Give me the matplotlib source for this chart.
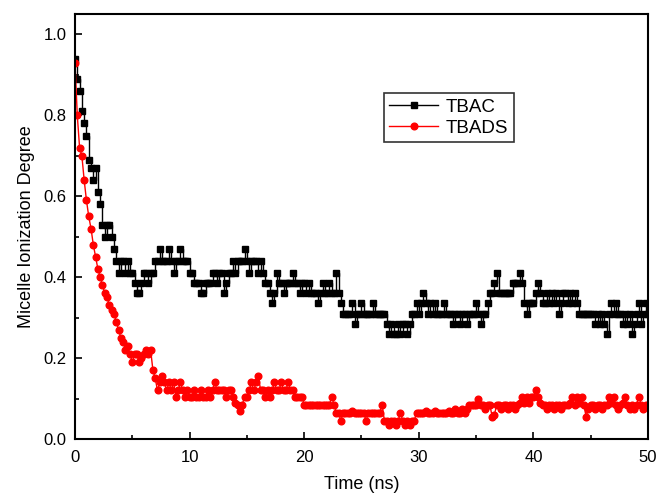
import numpy as np
import matplotlib
matplotlib.use("Agg")
import matplotlib.pyplot as plt

plt.rcParams['font.family'] = ['Liberation Sans', 'DejaVu Sans']

# sampling step of the trajectories (ns)
dt = 0.2

# TBAC, one row per ns (5 samples each)
tbac = [
    0.94, 0.89, 0.86, 0.81, 0.78,
    0.75, 0.69, 0.67, 0.64, 0.67,
    0.61, 0.58, 0.53, 0.50, 0.53,
    0.53, 0.50, 0.47, 0.44, 0.41,
    0.44, 0.44, 0.41, 0.44, 0.41,
    0.41, 0.385, 0.36, 0.36, 0.385,
    0.41, 0.41, 0.385, 0.41, 0.41,
    0.44, 0.44, 0.47, 0.44, 0.44,
    0.44, 0.47, 0.44, 0.41, 0.44,
    0.44, 0.47, 0.44, 0.44, 0.44,
    0.41, 0.41, 0.385, 0.385, 0.385,
    0.36, 0.36, 0.385, 0.385, 0.385,
    0.41, 0.41, 0.385, 0.41, 0.41,
    0.36, 0.385, 0.41, 0.41, 0.44,
    0.41, 0.44, 0.44, 0.44, 0.47,
    0.44, 0.41, 0.44, 0.44, 0.44,
    0.41, 0.44, 0.41, 0.385, 0.385,
    0.36, 0.335, 0.36, 0.41, 0.385,
    0.385, 0.36, 0.385, 0.385, 0.385,
    0.41, 0.385, 0.385, 0.36, 0.385,
    0.385, 0.36, 0.385, 0.36, 0.36,
    0.36, 0.335, 0.36, 0.385, 0.36,
    0.36, 0.385, 0.36, 0.36, 0.41,
    0.36, 0.335, 0.31, 0.31, 0.31,
    0.31, 0.335, 0.285, 0.31, 0.31,
    0.335, 0.31, 0.31, 0.31, 0.31,
    0.335, 0.31, 0.31, 0.31, 0.31,
    0.31, 0.285, 0.26, 0.285, 0.26,
    0.26, 0.285, 0.26, 0.285, 0.285,
    0.26, 0.285, 0.31, 0.31, 0.335,
    0.31, 0.335, 0.36, 0.335, 0.31,
    0.335, 0.31, 0.335, 0.31, 0.31,
    0.31, 0.335, 0.31, 0.31, 0.31,
    0.285, 0.31, 0.31, 0.285, 0.31,
    0.31, 0.285, 0.31, 0.31, 0.31,
    0.335, 0.31, 0.285, 0.31, 0.31,
    0.335, 0.36, 0.36, 0.385, 0.41,
    0.36, 0.36, 0.36, 0.36, 0.36,
    0.36, 0.385, 0.385, 0.385, 0.41,
    0.385, 0.335, 0.31, 0.335, 0.335,
    0.335, 0.36, 0.385, 0.36, 0.335,
    0.335, 0.36, 0.335, 0.36, 0.335,
    0.36, 0.31, 0.335, 0.36, 0.36,
    0.335, 0.36, 0.335, 0.36, 0.335,
    0.31, 0.31, 0.31, 0.31, 0.31,
    0.31, 0.31, 0.285, 0.31, 0.285,
    0.31, 0.285, 0.26, 0.31, 0.335,
    0.31, 0.335, 0.31, 0.31, 0.285,
    0.31, 0.285, 0.31, 0.26, 0.285,
    0.31, 0.335, 0.285, 0.31, 0.335,
    0.31,
]

# TBADS, same sampling
tbads = [
    0.93, 0.80, 0.72, 0.70, 0.64,
    0.59, 0.55, 0.52, 0.48, 0.45,
    0.42, 0.40, 0.38, 0.36, 0.35,
    0.33, 0.32, 0.31, 0.29, 0.27,
    0.25, 0.24, 0.22, 0.23, 0.21,
    0.19, 0.21, 0.21, 0.19, 0.20,
    0.21, 0.22, 0.21, 0.22, 0.17,
    0.15, 0.12, 0.14, 0.155, 0.14,
    0.12, 0.14, 0.12, 0.14, 0.105,
    0.12, 0.14, 0.12, 0.105, 0.12,
    0.105, 0.105, 0.12, 0.105, 0.105,
    0.12, 0.105, 0.105, 0.12, 0.105,
    0.12, 0.14, 0.12, 0.12, 0.12,
    0.12, 0.105, 0.12, 0.12, 0.105,
    0.09, 0.085, 0.07, 0.085, 0.105,
    0.105, 0.12, 0.14, 0.12, 0.14,
    0.155, 0.12, 0.12, 0.105, 0.12,
    0.105, 0.12, 0.14, 0.12, 0.12,
    0.14, 0.12, 0.12, 0.14, 0.12,
    0.12, 0.105, 0.105, 0.105, 0.105,
    0.085, 0.085, 0.085, 0.085, 0.085,
    0.085, 0.085, 0.085, 0.085, 0.085,
    0.085, 0.085, 0.105, 0.085, 0.065,
    0.065, 0.045, 0.065, 0.065, 0.065,
    0.065, 0.07, 0.065, 0.065, 0.065,
    0.065, 0.065, 0.045, 0.065, 0.065,
    0.065, 0.065, 0.065, 0.065, 0.085,
    0.045, 0.045, 0.035, 0.045, 0.045,
    0.035, 0.045, 0.065, 0.045, 0.035,
    0.045, 0.035, 0.045, 0.045, 0.065,
    0.065, 0.065, 0.065, 0.07, 0.065,
    0.065, 0.065, 0.07, 0.065, 0.065,
    0.065, 0.065, 0.065, 0.07, 0.065,
    0.065, 0.075, 0.065, 0.065, 0.075,
    0.065, 0.075, 0.085, 0.085, 0.085,
    0.085, 0.10, 0.085, 0.085, 0.075,
    0.085, 0.085, 0.055, 0.06, 0.085,
    0.085, 0.075, 0.085, 0.085, 0.075,
    0.085, 0.085, 0.075, 0.085, 0.09,
    0.105, 0.09, 0.105, 0.09, 0.105,
    0.105, 0.12, 0.105, 0.09, 0.085,
    0.085, 0.075, 0.085, 0.085, 0.075,
    0.085, 0.085, 0.075, 0.085, 0.085,
    0.085, 0.09, 0.105, 0.085, 0.105,
    0.09, 0.105, 0.085, 0.055, 0.075,
    0.085, 0.085, 0.075, 0.085, 0.085,
    0.075, 0.085, 0.085, 0.105, 0.09,
    0.105, 0.085, 0.075, 0.085, 0.09,
    0.105, 0.085, 0.075, 0.085, 0.075,
    0.085, 0.105, 0.085, 0.075, 0.085,
    0.085,
]

time = np.arange(len(tbac)) * dt

fig = plt.figure(figsize=(6.59, 4.94), dpi=100)
ax = fig.add_axes([0.1138, 0.1113, 0.8695, 0.860])

ax.plot(time, tbac, drawstyle='steps-post', color='black', lw=1.0,
        marker='s', ms=4.3, mec='black', mfc='black', label='TBAC')
ax.plot(time, tbads, color='red', lw=1.0,
        marker='o', ms=4.8, mec='red', mfc='red', label='TBADS')

ax.set_xlim(0, 50)
ax.set_ylim(0, 1.05)
ax.set_xticks([0, 10, 20, 30, 40, 50])
ax.set_xticks([5, 15, 25, 35, 45], minor=True)
ax.set_yticks([0.0, 0.2, 0.4, 0.6, 0.8, 1.0])
ax.set_yticks([0.1, 0.3, 0.5, 0.7, 0.9], minor=True)
ax.set_yticklabels(['0.0', '0.2', '0.4', '0.6', '0.8', '1.0'])

ax.tick_params(which='both', direction='in', top=False, right=False,
               labelsize=12, width=1.2)
ax.tick_params(which='major', length=5)
ax.tick_params(which='minor', length=3)
ax.tick_params(axis='x', which='major', pad=8)
ax.tick_params(axis='y', which='major', pad=6)
for s in ax.spines.values():
    s.set_linewidth(1.5)

ax.set_xlabel('Time (ns)', fontsize=13, labelpad=8)
ax.set_ylabel('Micelle Ionization Degree', fontsize=13, labelpad=6)

leg = ax.legend(loc='upper left', bbox_to_anchor=(0.539, 0.814), fontsize=13.5,
                frameon=True, fancybox=False, borderpad=0.3,
                handlelength=2.6, handletextpad=0.4, labelspacing=0.2,
                borderaxespad=0)
leg.get_frame().set_edgecolor('black')
leg.get_frame().set_linewidth(1.2)

plt.savefig('out.png', dpi=100)
plt.close()
